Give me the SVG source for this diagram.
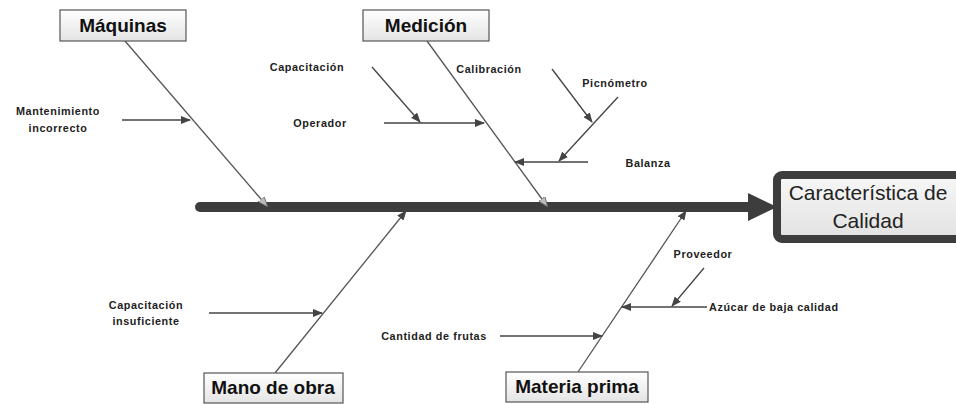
<svg xmlns="http://www.w3.org/2000/svg" width="956" height="404" viewBox="0 0 956 404">
<style>
.bone{stroke:#555;stroke-width:1.3;fill:none}
.cause{stroke:#444;stroke-width:1.3;fill:none;marker-end:url(#ah)}
.lbl{font-family:"Liberation Sans",Arial,sans-serif;font-weight:bold;font-size:10.8px;letter-spacing:0.6px;fill:#222}
.ttl{font-family:"Liberation Sans",Arial,sans-serif;font-weight:bold;font-size:19px;fill:#111}
.box{fill:url(#g);stroke:#555;stroke-width:1.2}
</style>
<defs>
<linearGradient id="g" x1="0" y1="0" x2="0" y2="1"><stop offset="0" stop-color="#ffffff"/><stop offset="1" stop-color="#e4e4e4"/></linearGradient>
<linearGradient id="g2" x1="0" y1="0" x2="0" y2="1"><stop offset="0" stop-color="#f7f7f7"/><stop offset="1" stop-color="#e2e2e2"/></linearGradient>
<marker id="ah" markerWidth="10" markerHeight="8" refX="9" refY="4" orient="auto" markerUnits="userSpaceOnUse"><path d="M0,0 L10,4 L0,8 Z" fill="#444"/></marker>
<marker id="oh" markerWidth="10" markerHeight="8" refX="9" refY="4" orient="auto" markerUnits="userSpaceOnUse"><path d="M0,0 L10,4 L0,8 Z" fill="#bbb" stroke="#666" stroke-width="0.8"/></marker>
</defs>
<rect width="956" height="404" fill="#fff"/>
<g id="connectors">
<line x1="200" y1="207" x2="752" y2="207" stroke="#3d3d3d" stroke-width="10" stroke-linecap="round"/>
<polygon points="748,193 777,207 748,221" fill="#3d3d3d"/>
<line class="bone" x1="125" y1="41" x2="267" y2="206" marker-end="url(#oh)"/>
<line class="bone" x1="427" y1="41" x2="547" y2="206" marker-end="url(#oh)"/>
<line class="bone" x1="275" y1="373" x2="406" y2="211" marker-end="url(#ah)"/>
<line class="bone" x1="578" y1="372" x2="686" y2="211" marker-end="url(#ah)"/>
<line class="cause" x1="122" y1="120" x2="190" y2="120"/>
<line class="cause" x1="372" y1="67" x2="420" y2="122"/>
<line class="cause" x1="384" y1="123" x2="484" y2="123"/>
<line class="cause" x1="552" y1="69" x2="592" y2="122"/>
<line class="cause" x1="618" y1="97" x2="559" y2="161"/>
<line class="cause" x1="588" y1="162" x2="515" y2="162"/>
<line class="cause" x1="209" y1="313" x2="322" y2="313"/>
<line class="cause" x1="500" y1="336" x2="602" y2="336"/>
<line class="cause" x1="704" y1="268" x2="672" y2="306"/>
<line class="cause" x1="707" y1="307" x2="622" y2="307"/>
</g>
<g id="maquinas"><rect class="box" x="60" y="10" width="126" height="31"/><text class="ttl" x="123" y="32" text-anchor="middle">Máquinas</text></g>
<g id="medicion"><rect class="box" x="363" y="10" width="126" height="31"/><text class="ttl" x="426" y="32" text-anchor="middle">Medición</text></g>
<g id="manodeobra"><rect class="box" x="204" y="373" width="139" height="30"/><text class="ttl" x="273" y="394" text-anchor="middle">Mano de obra</text></g>
<g id="materiaprima"><rect class="box" x="506" y="372" width="142" height="30"/><text class="ttl" x="577" y="393" text-anchor="middle">Materia prima</text></g>
<g id="efecto"><rect x="777" y="175" width="190" height="64" rx="5" fill="url(#g2)" stroke="#3d3d3d" stroke-width="8"/><text font-family="'Liberation Sans',Arial,sans-serif" font-size="21" fill="#222" text-anchor="middle"><tspan x="868" y="200">Característica de</tspan><tspan x="868" y="228">Calidad</tspan></text></g>
<g id="labels">
<text class="lbl" text-anchor="middle"><tspan x="58" y="115">Mantenimiento</tspan><tspan x="58" y="132">incorrecto</tspan></text>
<text class="lbl" x="307" y="71" text-anchor="middle">Capacitación</text>
<text class="lbl" x="320" y="127" text-anchor="middle">Operador</text>
<text class="lbl" x="489" y="73" text-anchor="middle">Calibración</text>
<text class="lbl" x="615" y="87" text-anchor="middle">Picnómetro</text>
<text class="lbl" x="648" y="167" text-anchor="middle">Balanza</text>
<text class="lbl" text-anchor="middle"><tspan x="146" y="309">Capacitación</tspan><tspan x="146" y="325">insuficiente</tspan></text>
<text class="lbl" x="434" y="340" text-anchor="middle">Cantidad de frutas</text>
<text class="lbl" x="703" y="258" text-anchor="middle">Proveedor</text>
<text class="lbl" x="709" y="311">Azúcar de baja calidad</text>
</g>
</svg>
